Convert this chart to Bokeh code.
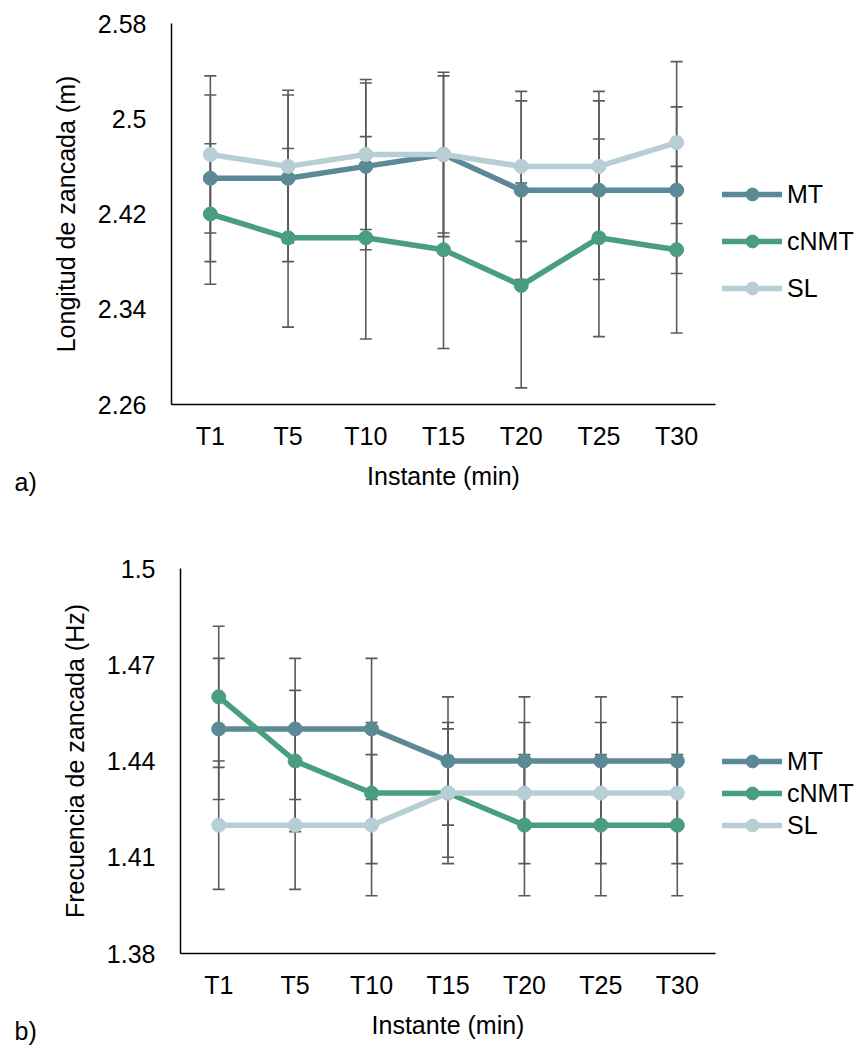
from bokeh.plotting import figure
from bokeh.models import (ColumnDataSource, Whisker, TeeHead, FixedTicker, Legend,
                          LegendItem, Title, FactorRange, Range1d)
from bokeh.embed import file_html
from bokeh.resources import INLINE

# Time points (minutes into the run)
categories = ["T1", "T5", "T10", "T15", "T20", "T25", "T30"]
series_names = ["MT", "cNMT", "SL"]

# a) Stride length (m): means and standard deviations
length_mt = [2.45, 2.45, 2.46, 2.47, 2.44, 2.44, 2.44]
length_cnmt = [2.42, 2.40, 2.40, 2.39, 2.36, 2.40, 2.39]
length_sl = [2.47, 2.46, 2.47, 2.47, 2.46, 2.46, 2.48]
length_mt_sd = [0.070, 0.070, 0.070, 0.069, 0.075, 0.075, 0.070]
length_cnmt_sd = [0.059, 0.075, 0.085, 0.083, 0.086, 0.083, 0.070]
length_sl_sd = [0.066, 0.064, 0.063, 0.066, 0.063, 0.063, 0.068]
length_ticks = [2.26, 2.34, 2.42, 2.5, 2.58]
length_tick_labels = ["2.26", "2.34", "2.42", "2.5", "2.58"]

# b) Stride frequency (Hz): means and standard deviations
freq_mt = [1.45, 1.45, 1.45, 1.44, 1.44, 1.44, 1.44]
freq_cnmt = [1.46, 1.44, 1.43, 1.43, 1.42, 1.42, 1.42]
freq_sl = [1.42, 1.42, 1.42, 1.43, 1.43, 1.43, 1.43]
freq_mt_sd = [0.022, 0.022, 0.022, 0.020, 0.020, 0.020, 0.020]
freq_cnmt_sd = [0.022, 0.022, 0.022, 0.022, 0.022, 0.022, 0.022]
freq_sl_sd = [0.020, 0.020, 0.022, 0.020, 0.022, 0.022, 0.022]
freq_ticks = [1.38, 1.41, 1.44, 1.47, 1.5]
freq_tick_labels = ["1.38", "1.41", "1.44", "1.47", "1.5"]

colors = ["#5B8A96", "#4A9E80", "#B7CED4"]
FONT = "Liberation Sans"
FS = "25px"
BAR = "#5A5A5A"


def make_panel(means, sds, ticks, tick_labels, y_label, tag,
               frame_w, frame_h, border_left, border_top, border_bottom,
               legend_y, legend_spacing, tag_standoff):
    p = figure(x_range=FactorRange(factors=categories),
               y_range=Range1d(ticks[0], ticks[-1]),
               frame_width=frame_w, frame_height=frame_h,
               output_backend="svg", toolbar_location=None,
               min_border_left=border_left, min_border_right=142,
               min_border_top=border_top, min_border_bottom=border_bottom)
    p.outline_line_color = None
    p.xgrid.visible = False
    p.ygrid.visible = False
    p.background_fill_color = "white"

    # error bars behind the lines
    for m, s in zip(means, sds):
        src = ColumnDataSource(dict(x=categories,
                                    lo=[a - b for a, b in zip(m, s)],
                                    hi=[a + b for a, b in zip(m, s)]))
        w = Whisker(base="x", lower="lo", upper="hi", source=src, dimension="height",
                    line_color=BAR, line_width=1.6, level="underlay",
                    lower_head=TeeHead(size=12, line_color=BAR, line_width=1.6),
                    upper_head=TeeHead(size=12, line_color=BAR, line_width=1.6))
        p.add_layout(w)

    items = []
    for name, m, c in zip(series_names, means, colors):
        src = ColumnDataSource(dict(x=categories, y=m))
        ln = p.line("x", "y", source=src, line_color=c, line_width=5.5,
                    line_cap="round", line_join="round")
        sc = p.scatter("x", "y", source=src, size=14, fill_color=c, line_color=c)
        items.append(LegendItem(label=name, renderers=[ln, sc]))

    legend = Legend(items=items, location=(7, legend_y), orientation="vertical",
                    glyph_width=60, glyph_height=32, label_height=32,
                    spacing=legend_spacing, padding=0, margin=0, label_standoff=5,
                    border_line_color=None, background_fill_alpha=0,
                    label_text_font=FONT, label_text_font_size=FS, label_text_color="black")
    p.add_layout(legend, "right")

    yax = p.yaxis[0]
    yax.ticker = FixedTicker(ticks=ticks)
    yax.major_label_overrides = {t: l for t, l in zip(ticks, tick_labels)}
    yax.axis_label = y_label

    xax = p.xaxis[0]
    xax.axis_label = "Instante (min)"

    for ax in (xax, yax):
        ax.axis_line_color = "black"
        ax.axis_line_width = 1.5
        ax.major_tick_line_color = None
        ax.minor_tick_line_color = None
        ax.major_tick_out = 0
        ax.major_tick_in = 0
        ax.minor_tick_out = 0
        ax.major_label_text_font = FONT
        ax.major_label_text_font_size = FS
        ax.major_label_text_color = "black"
        ax.axis_label_text_font = FONT
        ax.axis_label_text_font_size = FS
        ax.axis_label_text_font_style = "normal"
        ax.axis_label_text_color = "black"
    yax.major_label_standoff = 25
    yax.axis_label_standoff = 15
    xax.major_label_standoff = 17
    xax.axis_label_standoff = 9

    # panel tag under the x axis, at the left edge of the figure
    p.add_layout(Title(text=tag, align="left", vertical_align="top",
                       offset=14 - border_left, standoff=tag_standoff,
                       text_font=FONT, text_font_size=FS,
                       text_font_style="normal", text_color="black"), "below")
    return p


p1 = make_panel([length_mt, length_cnmt, length_sl],
                [length_mt_sd, length_cnmt_sd, length_sl_sd],
                length_ticks, length_tick_labels, "Longitud de zancada (m)", "a)",
                544, 381, 171, 23, 116, 100, 15, -49)
p2 = make_panel([freq_mt, freq_cnmt, freq_sl],
                [freq_mt_sd, freq_cnmt_sd, freq_sl_sd],
                freq_ticks, freq_tick_labels, "Frecuencia de zancada (Hz)", "b)",
                535, 385, 180, 48, 92, 112, 0, -49)

open("out.html", "w").write(file_html([p1, p2], INLINE))
